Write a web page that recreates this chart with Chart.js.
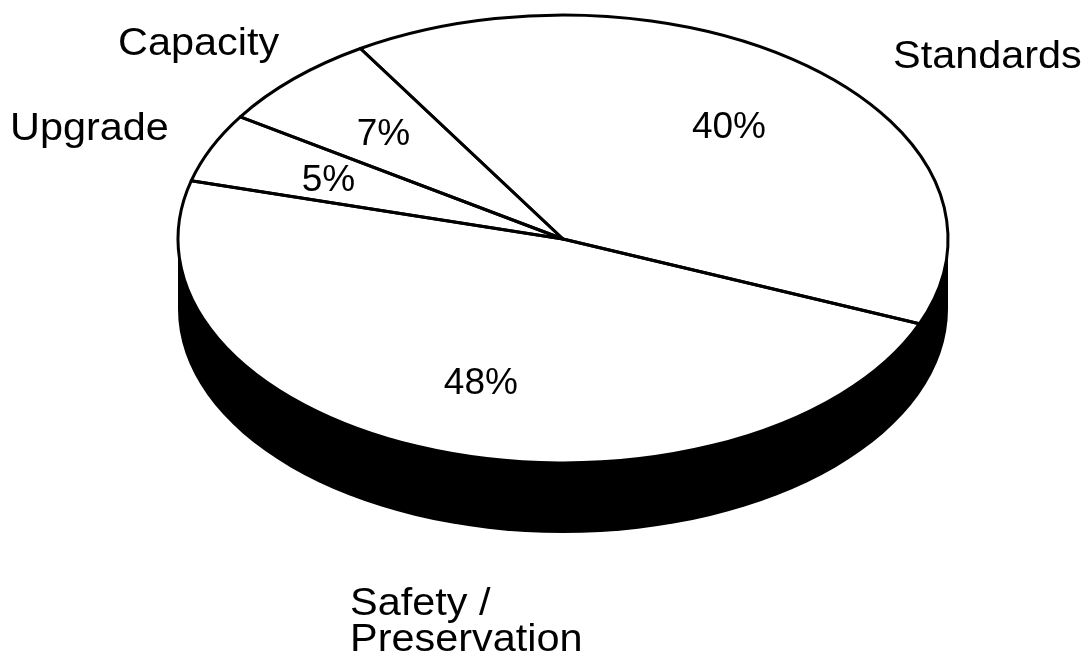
<!DOCTYPE html>
<html>
<head>
<meta charset="utf-8">
<script src="https://cdn.jsdelivr.net/npm/chart.js@4/dist/chart.umd.min.js"></script>
<style>
  html, body { margin: 0; padding: 0; background: #fff; }
  #wrap { width: 1085px; height: 654px; }
</style>
</head>
<body>
<div id="wrap"><canvas id="pie" width="1085" height="654"></canvas></div>
<script>
// data, clockwise from the Capacity/Standards edge
const categories = ['Standards', ['Safety /', 'Preservation'], 'Upgrade', 'Capacity'];
const shares = [40, 48, 5, 7];

// where the tilted disc sits on the page
const disc = { cx: 563, cy: 239, rx: 385, ry: 224, depth: 70 };
// name label anchors (left, baseline), same order as categories
const namePos = [[893, 68], [350, 615], [10, 140], [118, 55]];

const FONT = '"Liberation Sans", Arial, sans-serif';

const tiltPlugin = {
    id: 'tilt',
    beforeDatasetsDraw(chart) {
        const ctx = chart.ctx;
        const arc = chart.getDatasetMeta(0).data[0];
        const p = arc.getProps(['x', 'y', 'outerRadius'], true);
        // black side wall
        ctx.save();
        ctx.fillStyle = '#000';
        ctx.beginPath();
        ctx.ellipse(disc.cx, disc.cy + disc.depth, disc.rx, disc.ry, 0, 0, Math.PI);
        ctx.lineTo(disc.cx - disc.rx, disc.cy);
        ctx.lineTo(disc.cx + disc.rx, disc.cy);
        ctx.closePath();
        ctx.fill();
        ctx.restore();
        // squash the circle into the ellipse
        ctx.save();
        ctx.translate(disc.cx, disc.cy);
        ctx.scale(disc.rx / p.outerRadius, disc.ry / p.outerRadius);
        ctx.translate(-p.x, -p.y);
    },
    afterDatasetsDraw(chart) {
        const ctx = chart.ctx;
        ctx.restore();
        const arcs = chart.getDatasetMeta(0).data;
        ctx.save();
        ctx.strokeStyle = '#000';
        ctx.lineWidth = 3;
        ctx.lineJoin = 'round';
        arcs.forEach(a => {
            const p = a.getProps(['startAngle', 'endAngle'], true);
            ctx.beginPath();
            ctx.moveTo(disc.cx, disc.cy);
            ctx.ellipse(disc.cx, disc.cy, disc.rx, disc.ry, 0, p.startAngle, p.endAngle);
            ctx.closePath();
            ctx.stroke();
        });
        ctx.restore();
    },
    afterDraw(chart) {
        const ctx = chart.ctx;
        const arcs = chart.getDatasetMeta(0).data;
        ctx.save();
        ctx.fillStyle = '#000';
        // percentages inside the slices
        ctx.font = '37px ' + FONT;
        ctx.textAlign = 'center';
        ctx.textBaseline = 'alphabetic';
        arcs.forEach((a, i) => {
            const p = a.getProps(['startAngle', 'endAngle'], true);
            const mid = (p.startAngle + p.endAngle) / 2;
            const x = disc.cx + 0.667 * disc.rx * Math.cos(mid);
            const y = disc.cy + 0.667 * disc.ry * Math.sin(mid);
            ctx.fillText(shares[i] + '%', x, y + 13);
        });
        // category names
        ctx.font = '38px ' + FONT;
        ctx.textAlign = 'left';
        categories.forEach((lbl, i) => {
            const lines = Array.isArray(lbl) ? lbl : [lbl];
            lines.forEach((ln, j) => {
                ctx.save();
                ctx.translate(namePos[i][0], namePos[i][1] + j * 36);
                ctx.scale(1.09, 1);
                ctx.fillText(ln, 0, 0);
                ctx.restore();
            });
        });
        ctx.restore();
    }
};

new Chart(document.getElementById('pie'), {
    type: 'pie',
    data: {
        labels: categories,
        datasets: [{
            data: shares,
            backgroundColor: '#fff',
            borderWidth: 0,
            clip: false
        }]
    },
    options: {
        responsive: false,
        animation: false,
        rotation: -31.75,
        plugins: {
            legend: { display: false },
            tooltip: { enabled: false }
        }
    },
    plugins: [tiltPlugin]
});
</script>
</body>
</html>
